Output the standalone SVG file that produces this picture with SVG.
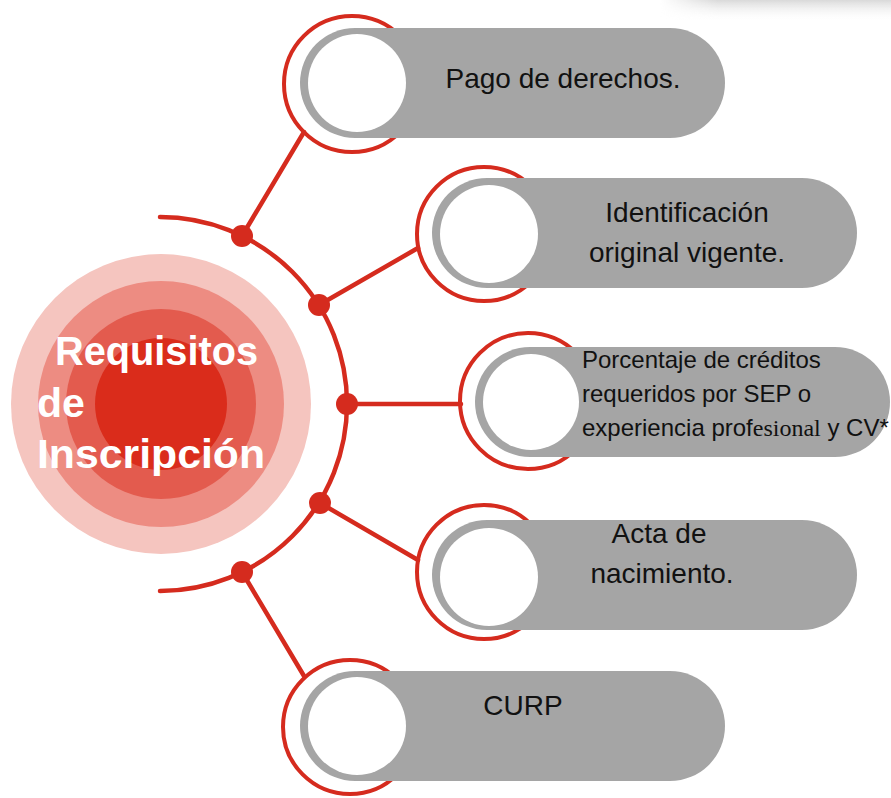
<svg xmlns="http://www.w3.org/2000/svg" width="891" height="798" viewBox="0 0 891 798">
  <defs>
    <linearGradient id="topShade" x1="0" y1="0" x2="0" y2="1">
      <stop offset="0" stop-color="#d9d9d9"/>
      <stop offset="1" stop-color="#ffffff" stop-opacity="0"/>
    </linearGradient>
    <linearGradient id="topShadeMask" x1="0" y1="0" x2="1" y2="0">
      <stop offset="0" stop-color="#fff" stop-opacity="0"/>
      <stop offset="0.25" stop-color="#fff" stop-opacity="1"/>
    </linearGradient>
    <mask id="fadeLeft">
      <rect x="660" y="0" width="231" height="24" fill="url(#topShadeMask)"/>
    </mask>
  </defs>
  <style>
    .conn { stroke: #d52b1e; stroke-width: 4.5; fill: none; stroke-linecap: round; }
    .dot { fill: #d52b1e; }
    .ring { fill: none; stroke: #d52b1e; stroke-width: 4; }
    .pill { fill: #a5a5a5; }
    .hole { fill: #ffffff; }
    .lbl { font-family: "Liberation Sans", Arial, sans-serif; fill: #111111; font-size: 28px; }
    .lbl-s { font-family: "Liberation Sans", Arial, sans-serif; fill: #111111; font-size: 24px; }
    .serif { font-family: "Liberation Serif", "Times New Roman", serif; }
    .title { font-family: "Liberation Sans", Arial, sans-serif; fill: #ffffff; font-size: 41px; font-weight: bold; }
  </style>

  <rect x="0" y="0" width="891" height="798" fill="#ffffff"/>
  <rect x="660" y="0" width="231" height="22" fill="url(#topShade)" mask="url(#fadeLeft)"/>

  <g id="center">
    <circle cx="161" cy="404" r="150" fill="#f5c5bf"/>
    <circle cx="161" cy="404" r="123" fill="#ed8c82"/>
    <circle cx="161" cy="404" r="95" fill="#e35b4e"/>
    <circle cx="161" cy="404" r="66" fill="#da2c1b"/>
    <text class="title" x="55" y="365" textLength="203" lengthAdjust="spacingAndGlyphs">Requisitos</text>
    <text class="title" x="37" y="417">de</text>
    <text class="title" x="37" y="468" textLength="228" lengthAdjust="spacingAndGlyphs">Inscripción</text>
  </g>

  <g id="connectors">
    <path class="conn" d="M160,217 A187,187 0 0 1 160,591"/>
    <line class="conn" x1="242" y1="236" x2="304" y2="132"/>
    <line class="conn" x1="319" y1="305" x2="418" y2="248"/>
    <line class="conn" x1="347" y1="404" x2="461" y2="404"/>
    <line class="conn" x1="320" y1="503" x2="418" y2="560"/>
    <line class="conn" x1="242" y1="572" x2="304" y2="676"/>
    <circle class="dot" cx="242" cy="236" r="11"/>
    <circle class="dot" cx="319" cy="305" r="11"/>
    <circle class="dot" cx="347" cy="404" r="11"/>
    <circle class="dot" cx="320" cy="503" r="11"/>
    <circle class="dot" cx="242" cy="572" r="11"/>
  </g>

  <g id="node-pago">
    <circle class="ring" cx="352" cy="84" r="68"/>
    <rect class="pill" x="300" y="28" width="425" height="110" rx="55" ry="55"/>
    <circle class="hole" cx="357" cy="83" r="49"/>
    <text class="lbl" x="563" y="88" text-anchor="middle">Pago de derechos.</text>
  </g>

  <g id="node-identificacion">
    <circle class="ring" cx="484" cy="234" r="67"/>
    <rect class="pill" x="432" y="178" width="425" height="110" rx="55" ry="55"/>
    <circle class="hole" cx="489" cy="234" r="49"/>
    <text class="lbl" x="687" y="222" text-anchor="middle">Identificación</text>
    <text class="lbl" x="687" y="262" text-anchor="middle">original vigente.</text>
  </g>

  <g id="node-porcentaje">
    <circle class="ring" cx="528" cy="401" r="68"/>
    <rect class="pill" x="475" y="347" width="415" height="110" rx="55" ry="55"/>
    <circle class="hole" cx="531" cy="402" r="48"/>
    <text class="lbl-s" x="582" y="368">Porcentaje de créditos</text>
    <text class="lbl-s" x="582" y="402">requeridos por SEP o</text>
    <text class="lbl-s" x="582" y="436">experiencia prof<tspan class="serif">esional</tspan> y CV*</text>
  </g>

  <g id="node-acta">
    <circle class="ring" cx="484" cy="572" r="67"/>
    <rect class="pill" x="432" y="520" width="425" height="110" rx="55" ry="55"/>
    <circle class="hole" cx="489" cy="577" r="49"/>
    <text class="lbl" x="659" y="543" text-anchor="middle">Acta de</text>
    <text class="lbl" x="662" y="583" text-anchor="middle">nacimiento.</text>
  </g>

  <g id="node-curp">
    <circle class="ring" cx="350" cy="727" r="67"/>
    <rect class="pill" x="300" y="671" width="425" height="110" rx="55" ry="55"/>
    <circle class="hole" cx="357" cy="726" r="49"/>
    <text class="lbl" x="523" y="715" text-anchor="middle">CURP</text>
  </g>
</svg>
